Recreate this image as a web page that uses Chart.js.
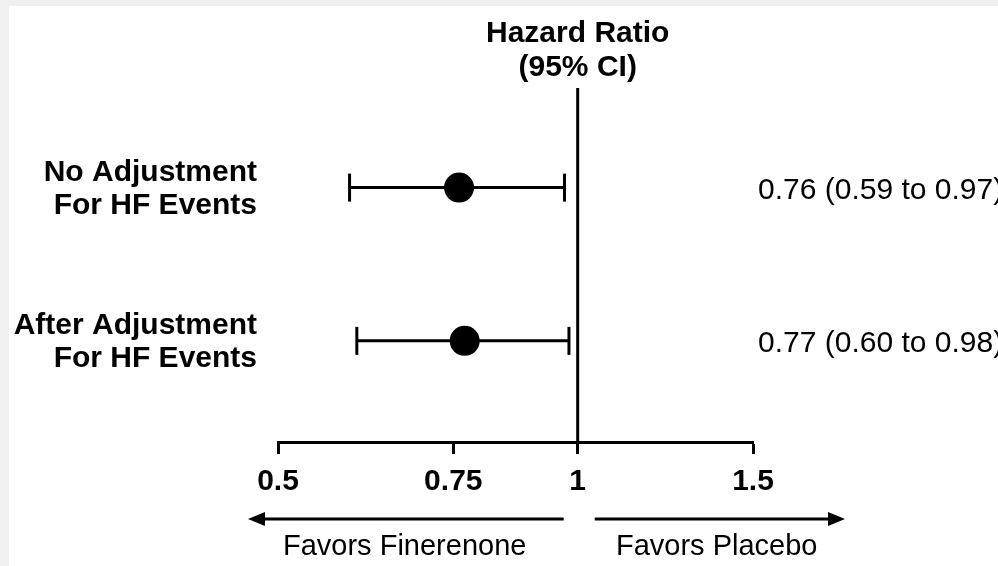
<!DOCTYPE html>
<html>
<head>
<meta charset="utf-8">
<script src="https://cdn.jsdelivr.net/npm/chart.js@4/dist/chart.umd.min.js"></script>
<style>
  html, body { margin: 0; padding: 0; background: #ffffff; }
  canvas { display: block; }
</style>
</head>
<body>
<canvas id="c" width="998" height="566"></canvas>
<script>
// ---- data ----
const rowLabels = [["No Adjustment", "For HF Events"], ["After Adjustment", "For HF Events"]];
const rowIndex = [1, 2];
const hazardRatio = [0.76, 0.77];
const ciLower = [0.59, 0.60];
const ciUpper = [0.97, 0.98];
const hrText = ["0.76 (0.59 to 0.97)", "0.77 (0.60 to 0.98)"];
const xTicks = [0.5, 0.75, 1, 1.5];
const xTickLabels = ["0.5", "0.75", "1", "1.5"];
const headerLines = ["Hazard Ratio", "(95% CI)"];
const directionLabels = ["Favors Finerenone", "Favors Placebo"];
const referenceValue = 1;

const FONT = "'Liberation Sans', Arial, Helvetica, sans-serif";
const yMin = 0.35, yMax = 2.66;

const ciDatasets = rowIndex.map((r, i) => ({
  type: 'scatter',
  data: [{ x: ciLower[i], y: r }, { x: ciUpper[i], y: r }],
  showLine: true,
  borderColor: '#000',
  borderWidth: 3,
  pointStyle: 'line',
  pointRotation: 90,
  pointRadius: 14,
  pointBorderWidth: 3,
  pointBorderColor: '#000',
  clip: false
}));

const pointDataset = {
  type: 'scatter',
  data: rowIndex.map((r, i) => ({ x: hazardRatio[i], y: r })),
  pointStyle: 'circle',
  pointRadius: 15,
  pointBackgroundColor: '#000',
  pointBorderColor: '#000',
  pointBorderWidth: 0,
  showLine: false,
  clip: false
};

const refDataset = {
  type: 'scatter',
  data: [{ x: referenceValue, y: yMin }, { x: referenceValue, y: yMax }],
  showLine: true,
  borderColor: '#000',
  borderWidth: 3,
  pointRadius: 0,
  clip: false
};

const decorPlugin = {
  id: 'decor',
  beforeDraw(chart) {
    const ctx = chart.ctx;
    ctx.save();
    ctx.fillStyle = '#f0f0f0';
    ctx.fillRect(0, 0, chart.width, chart.height);
    ctx.fillStyle = '#ffffff';
    ctx.fillRect(9, 6, chart.width - 9, chart.height - 6);
    ctx.restore();
  },
  afterDraw(chart) {
    const ctx = chart.ctx;
    const xs = chart.scales.x, ys = chart.scales.y;
    const area = chart.chartArea;
    const xRef = xs.getPixelForValue(referenceValue);
    ctx.save();
    ctx.fillStyle = '#000';
    ctx.strokeStyle = '#000';

    // header
    ctx.font = 'bold 30px ' + FONT;
    ctx.textAlign = 'center';
    ctx.textBaseline = 'alphabetic';
    ctx.fillText(headerLines[0], xRef, 42);
    ctx.fillText(headerLines[1], xRef, 76);

    // row labels and HR text
    rowIndex.forEach((r, i) => {
      const y = ys.getPixelForValue(r);
      ctx.font = 'bold 30px ' + FONT;
      ctx.textAlign = 'right';
      ctx.fillText(rowLabels[i][0], area.left - 21, y - 7);
      ctx.fillText(rowLabels[i][1], area.left - 21, y + 26);
      ctx.font = '30px ' + FONT;
      ctx.textAlign = 'left';
      ctx.fillText(hrText[i], area.right + 5, y + 11);
    });

    // direction arrows
    const ay = 519;
    const leftTip = area.left - 30, leftEnd = xRef - 14;
    const rightStart = xRef + 17, rightTip = area.right + 92;
    ctx.lineWidth = 3;
    ctx.beginPath();
    ctx.moveTo(leftTip + 14, ay); ctx.lineTo(leftEnd, ay);
    ctx.moveTo(rightStart, ay); ctx.lineTo(rightTip - 14, ay);
    ctx.stroke();
    ctx.beginPath();
    ctx.moveTo(leftTip, ay); ctx.lineTo(leftTip + 17, ay - 7); ctx.lineTo(leftTip + 17, ay + 7); ctx.closePath();
    ctx.moveTo(rightTip, ay); ctx.lineTo(rightTip - 17, ay - 7); ctx.lineTo(rightTip - 17, ay + 7); ctx.closePath();
    ctx.fill();

    ctx.font = '29px ' + FONT;
    ctx.textAlign = 'center';
    ctx.fillText(directionLabels[0], xRef - 173, 555);
    ctx.fillText(directionLabels[1], xRef + 139, 555);
    ctx.restore();
  }
};

new Chart(document.getElementById('c'), {
  type: 'scatter',
  data: { datasets: [refDataset, ...ciDatasets, pointDataset] },
  options: {
    responsive: false,
    devicePixelRatio: 1,
    animation: false,
    events: [],
    layout: { padding: { left: 278, right: 245, top: 88, bottom: 56 } },
    plugins: { legend: { display: false }, tooltip: { enabled: false } },
    scales: {
      x: {
        type: 'logarithmic',
        position: 'bottom',
        min: 0.5,
        max: 1.5,
        afterBuildTicks(axis) { axis.ticks = xTicks.map(v => ({ value: v })); },
        ticks: {
          autoSkip: false,
          maxRotation: 0,
          color: '#000',
          padding: 10,
          font: { family: FONT, size: 30, weight: 'bold' },
          callback(value) { const k = xTicks.indexOf(value); return k >= 0 ? xTickLabels[k] : ''; }
        },
        grid: { display: true, drawOnChartArea: false, drawTicks: true, tickLength: 12, tickWidth: 3, tickColor: '#000' },
        border: { display: true, width: 3, color: '#000' }
      },
      y: {
        type: 'linear',
        min: yMin,
        max: yMax,
        reverse: true,
        display: false
      }
    }
  },
  plugins: [decorPlugin]
});
</script>
</body>
</html>
